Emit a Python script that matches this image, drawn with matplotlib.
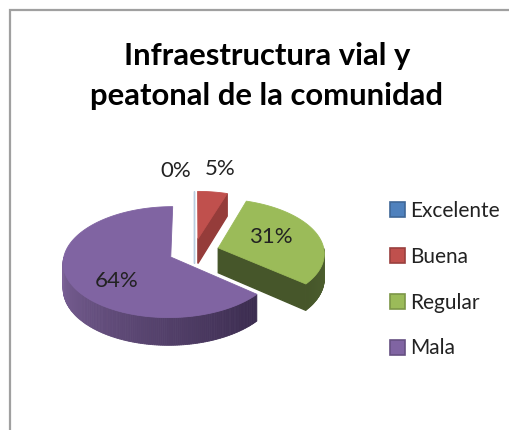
import numpy as np
import matplotlib
matplotlib.use('Agg')
import matplotlib.pyplot as plt
from matplotlib.patches import Patch, Polygon, Rectangle

title = 'Infraestructura vial y\npeatonal de la comunidad'
categories = ['Excelente', 'Buena', 'Regular', 'Mala']
values = [0, 5, 31, 64]
top_colors = ['#4f81bd', '#c0504d', '#9bbb59', '#8064a2']
wall_colors = ['#b9cde0', '#953c3a', '#46562a', '#5d4875']
edge_colors = ['#b9cde0', '#c0504d', '#9bbb59', '#8064a2']
label_xy = [(176, 171), (220, 169), (271, 237), (117, 281)]

cx, cy = 194, 251.5
a, b = 106, 54
persp = 0.09
depth = 25
explode = 0.24


def project(u, v, z=0):
    s = 1 / (1 + persp * v)
    return cx + a * u * s, cy - b * v * s + z * depth * s


def slice_points(t0, t1, ox, oy, z=0):
    ts = np.radians(np.linspace(t0, t1, max(int(t1 - t0), 1) + 1))
    return [project(ox + np.sin(t), oy + np.cos(t), z) for t in ts]


def mix(c0, c1, f):
    c0 = np.array(matplotlib.colors.to_rgb(c0))
    c1 = np.array(matplotlib.colors.to_rgb(c1))
    return c0 + (c1 - c0) * f


plt.rcParams['font.family'] = ['Lato', 'DejaVu Sans']
fig = plt.figure(figsize=(5.1, 4.3), dpi=100)
ax = fig.add_axes([0, 0, 1, 1])
ax.set_xlim(0, 510)
ax.set_ylim(430, 0)
ax.axis('off')

ax.add_patch(Rectangle((10, 10), 520, 440, fc='white', ec='#a0a0a0', lw=1.6))
ax.text(267, 76, title, ha='center', va='center', fontsize=22.3,
        fontweight='bold', color='black', linespacing=1.52)

ends = np.cumsum(values) * 3.6
starts = ends - np.array(values) * 3.6

for i in range(len(values)):
    t0, t1 = starts[i], ends[i]
    mid = np.radians((t0 + t1) / 2)
    ox, oy = explode * np.sin(mid), explode * np.cos(mid)

    # cut face at the clockwise end of the slice, only seen when it looks forward
    if t1 < 180:
        tip = (ox + np.sin(np.radians(t1)), oy + np.cos(np.radians(t1)))
        wall = [project(ox, oy), project(*tip), project(*tip, 1), project(ox, oy, 1)]
        ax.add_patch(Polygon(wall, fc=wall_colors[i], ec=wall_colors[i], lw=1, zorder=2 + i))

    # outer wall, front half only
    w0, w1 = max(t0, 90), min(t1, 270)
    if w1 > w0:
        steps = np.linspace(w0, w1, int(w1 - w0) + 1)
        for k in range(len(steps) - 1):
            top = slice_points(steps[k], steps[k + 1], ox, oy)
            bottom = slice_points(steps[k], steps[k + 1], ox, oy, 1)
            f = k / max(len(steps) - 2, 1)
            if i == 3:
                col = mix('#3a2b4e', '#7d6399', f)
            else:
                col = mix('#4f6230', '#46562a', f)
            ax.add_patch(Polygon(top + bottom[::-1], fc=col, ec=col, lw=0.6, zorder=2 + i))

    if values[i] > 0:
        face = [project(ox, oy)] + slice_points(t0, t1, ox, oy)
        ax.add_patch(Polygon(face, fc=top_colors[i], ec=edge_colors[i], lw=0.6, zorder=3 + i))

    ax.text(*label_xy[i], f'{values[i]}%', ha='center', va='center', fontsize=16,
            color='#222222', zorder=10)

handles = [Patch(fc=c, ec=matplotlib.colors.to_hex(mix(c, '#000000', 0.2)), lw=1.2) for c in top_colors]
ax.legend(handles, categories, loc='upper left', bbox_to_anchor=(390, 201),
          bbox_transform=ax.transData, frameon=False,
          fontsize=15, handlelength=0.7, handleheight=0.7, handletextpad=0.28,
          labelspacing=1.24, borderpad=0, borderaxespad=0, labelcolor='#222222')

fig.savefig('out.png', dpi=100)
